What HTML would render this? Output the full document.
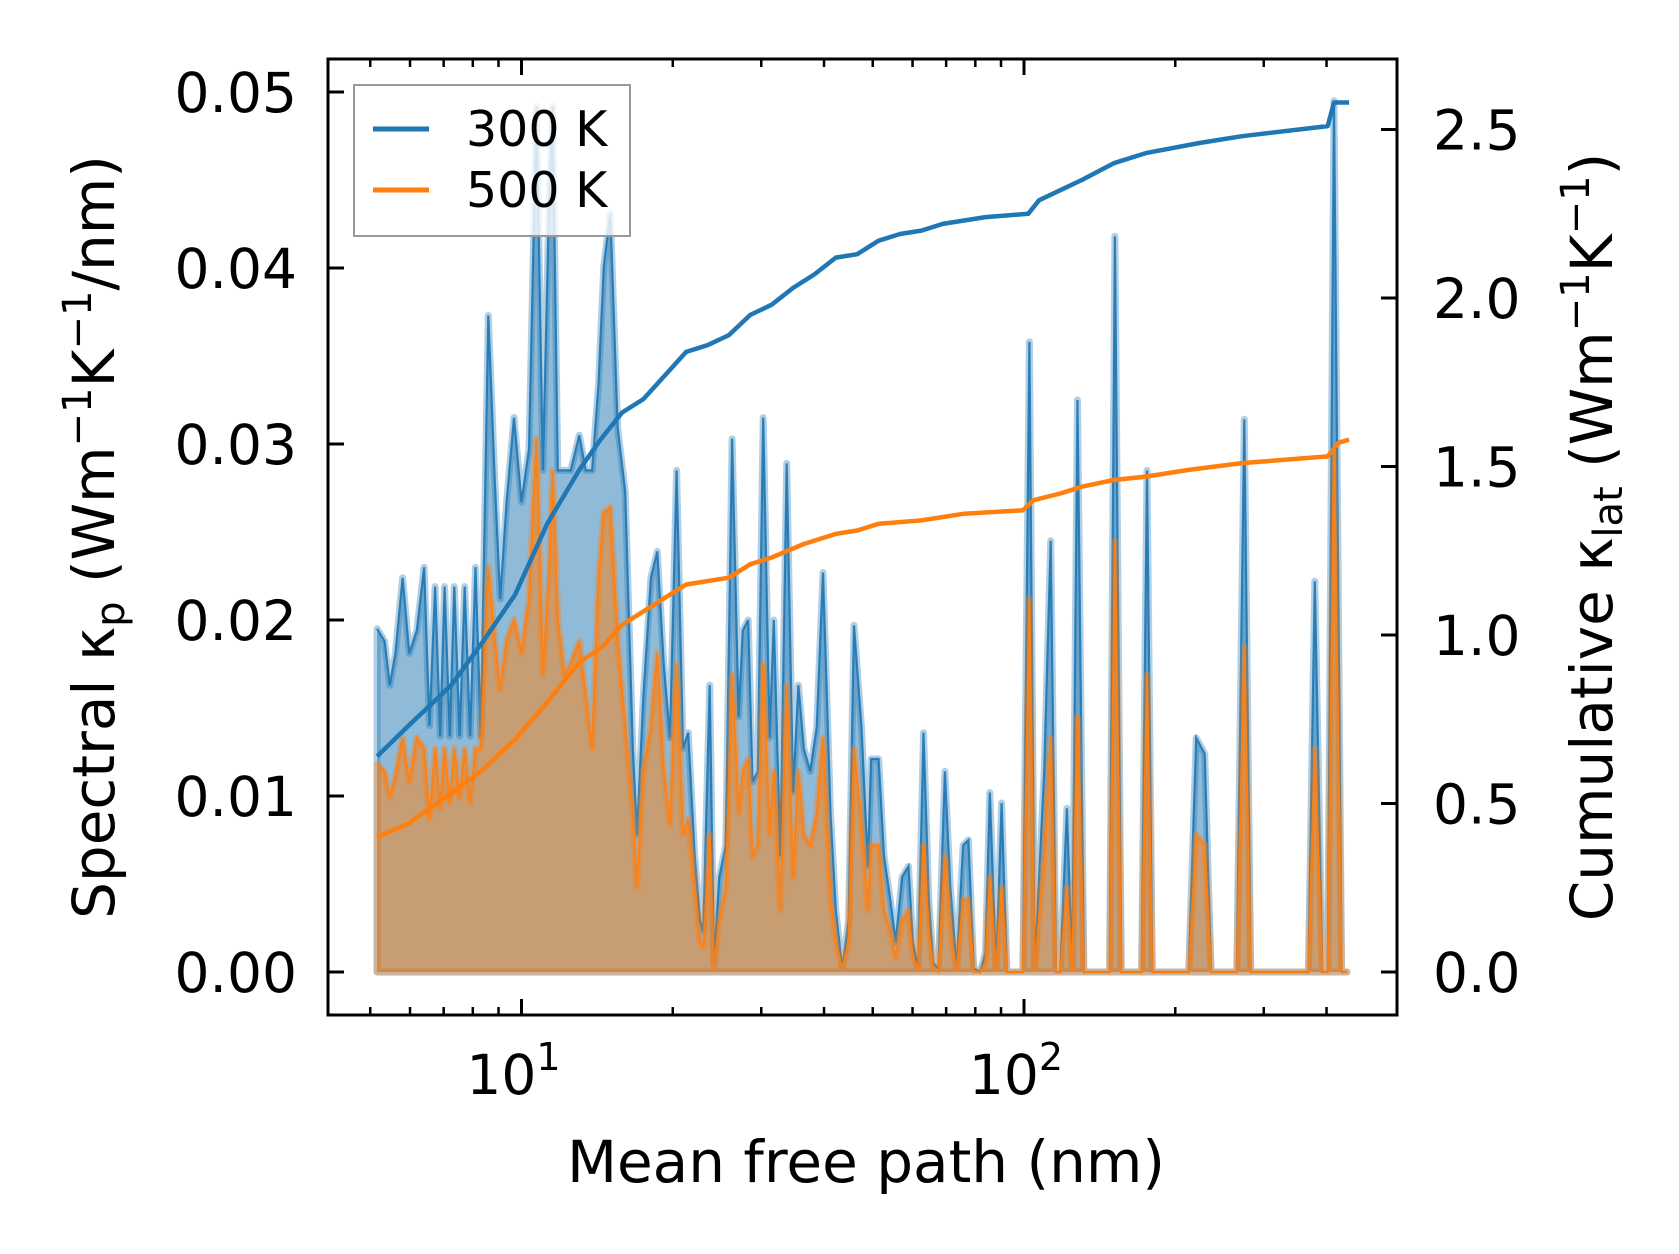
<!DOCTYPE html>
<html><head><meta charset="utf-8"><style>
html,body{margin:0;padding:0;background:#fff;}
svg{display:block;font-family:"DejaVu Sans","Liberation Sans",sans-serif;}
</style></head><body>
<svg id="chart" width="1679" height="1254" viewBox="0 0 1679 1254" xmlns="http://www.w3.org/2000/svg">
<g id="fills"></g><g id="lines"></g><g id="axes"></g>
</svg>
<script>
const mfp = [5.16,5.34,5.47,5.61,5.80,5.98,6.19,6.40,6.56,6.73,6.89,7.03,7.20,7.35,7.53,7.71,7.90,8.10,8.30,8.59,8.85,9.07,9.34,9.66,10.0,10.35,10.71,11.03,11.36,11.53,11.81,12.16,12.53,13.03,13.42,13.82,14.23,14.58,15.02,15.54,16.08,16.65,16.98,17.48,18.09,18.63,19.19,19.75,20.35,20.96,21.47,22.11,22.67,23.00,23.69,24.15,24.75,25.50,26.25,27.04,27.57,28.26,28.82,29.53,30.27,31.17,31.78,32.73,33.71,34.71,35.57,36.46,37.55,38.67,39.81,41.20,42.22,43.47,44.77,45.88,47.49,48.91,49.63,51.36,52.64,54.20,55.55,57.20,58.90,60.07,61.56,63.10,64.66,65.94,67.58,69.60,71.33,73.45,75.64,77.52,79.43,81.80,83.81,85.48,88.03,90.23,92.48,94.76,97.10,99.52,102.5,105.0,109.7,113.0,115.8,118.1,121.7,124.7,127.8,131.6,136.9,143.7,148.0,151.7,156.2,166.5,171.4,175.7,180.0,212.7,220.1,228.9,235.7,265.1,274.4,282.6,368.1,379.1,392.3,402.1,414.0,428.5,439.1];
const spec300 = [0.0195,0.0188,0.0163,0.0181,0.0224,0.0181,0.0194,0.0230,0.0140,0.0219,0.0134,0.0219,0.0134,0.0219,0.0134,0.0219,0.0134,0.0230,0.0134,0.0373,0.0279,0.0212,0.0267,0.0315,0.0267,0.0297,0.0492,0.0285,0.0443,0.0492,0.0285,0.0285,0.0285,0.0305,0.0285,0.0285,0.0334,0.0401,0.0431,0.0309,0.0273,0.0127,0.0078,0.0157,0.0224,0.0239,0.0175,0.0133,0.0285,0.0127,0.0136,0.0066,0.0029,0.0023,0.0163,0.0005,0.0054,0.0072,0.0303,0.0145,0.0194,0.0200,0.0108,0.0114,0.0315,0.0133,0.0200,0.0066,0.0289,0.0102,0.0163,0.0127,0.0114,0.0139,0.0227,0.0090,0.0035,0.0002,0.0029,0.0197,0.0139,0.0060,0.0121,0.0121,0.0066,0.0041,0.0017,0.0054,0.0060,0.0017,0.0002,0.0136,0.0041,0.0005,0.0002,0.0114,0.0048,0.0002,0.0072,0.0075,0.0002,0,0.0011,0.0102,0,0.0096,0,0,0,0,0.0358,0,0.0114,0.0245,0,0,0.0093,0,0.0325,0,0,0,0,0.0418,0,0,0,0.0285,0,0,0.0133,0.0124,0,0,0.0314,0,0,0.0222,0,0,0.0495,0,0];
const spec500 = [0.0118,0.0114,0.0099,0.0111,0.0133,0.0108,0.0133,0.0127,0.0087,0.0127,0.0093,0.0127,0.0096,0.0127,0.0099,0.0127,0.0096,0.0127,0.0127,0.0230,0.0188,0.0160,0.0188,0.0200,0.0181,0.0212,0.0303,0.0169,0.0230,0.0285,0.0200,0.0169,0.0175,0.0188,0.0157,0.0127,0.0224,0.0261,0.0264,0.0188,0.0139,0.0090,0.0048,0.0114,0.0139,0.0181,0.0114,0.0084,0.0175,0.0078,0.0087,0.0048,0.0017,0.0014,0.0078,0.0002,0.0029,0.0048,0.0169,0.0090,0.0114,0.0121,0.0066,0.0072,0.0175,0.0078,0.0114,0.0035,0.0163,0.0054,0.0114,0.0078,0.0072,0.0090,0.0133,0.0041,0.0017,0.0002,0.0017,0.0127,0.0084,0.0035,0.0072,0.0072,0.0035,0.0023,0.0008,0.0029,0.0035,0.0008,0.0002,0.0072,0.0023,0.0002,0,0.0066,0.0023,0,0.0041,0.0041,0,0,0.0005,0.0054,0,0.0048,0,0,0,0,0.0212,0,0.0066,0.0133,0,0,0.0048,0,0.0145,0,0,0,0,0.0245,0,0,0,0.0169,0,0,0.0078,0.0072,0,0,0.0185,0,0,0.0127,0,0,0.0295,0,0];
const cumMfp300 = [5.16,5.95,7.24,8.38,9.71,11.25,13.03,14.37,15.85,17.48,19.28,21.27,23.45,25.87,28.53,31.47,34.71,38.28,42.22,46.56,51.36,56.65,62.48,68.92,76.01,83.81,101.96,107.1,118.1,130.3,150.9,174.8,223.4,271.6,402.1,414.0,443.6];
const cum300 = [0.64,0.73,0.85,0.98,1.12,1.33,1.49,1.58,1.66,1.70,1.77,1.84,1.86,1.89,1.95,1.98,2.03,2.07,2.12,2.13,2.17,2.19,2.20,2.22,2.23,2.24,2.25,2.29,2.32,2.35,2.40,2.43,2.46,2.48,2.51,2.58,2.58];
const cumMfp500 = [5.16,5.95,7.24,8.38,9.71,11.25,13.03,14.37,15.85,17.48,19.28,21.27,25.87,28.53,31.47,36.46,42.22,46.56,51.36,62.48,76.01,99.52,104.5,118.1,130.3,150.9,174.8,212.7,271.6,402.1,422.3,443.6];
const cum500 = [0.40,0.44,0.53,0.60,0.69,0.80,0.92,0.96,1.03,1.07,1.11,1.15,1.17,1.21,1.23,1.27,1.30,1.31,1.33,1.34,1.36,1.37,1.40,1.42,1.44,1.46,1.47,1.49,1.51,1.53,1.57,1.58];
const leftTicks = [0,0.01,0.02,0.03,0.04,0.05];
const leftTickLabels = ["0.00","0.01","0.02","0.03","0.04","0.05"];
const rightTicks = [0,0.5,1.0,1.5,2.0,2.5];
const rightTickLabels = ["0.0","0.5","1.0","1.5","2.0","2.5"];
const xMajor = [10,100];
const xMinor = [5,6,7,8,9,20,30,40,50,60,70,80,90,200,300,400];

const L=328,R=1397,T=59,B=1015;
const X = v => 521.5 + (Math.log10(v)-1)*502.5;
const YL = v => 972 - v*17600;
const YR = v => 972 - v*337;
const NS="http://www.w3.org/2000/svg";
function mk(tag, attrs, parent){const e=document.createElementNS(NS,tag);for(const k in attrs)e.setAttribute(k,attrs[k]);parent.appendChild(e);return e;}
const fills=document.getElementById('fills'), lines=document.getElementById('lines'), axes=document.getElementById('axes');

function pts(xs, ys, fy){return xs.map((x,i)=>X(x).toFixed(1)+','+fy(ys[i]).toFixed(1));}
function area(ys, color, name){
  const p = pts(mfp, ys, YL);
  const d = 'M'+X(mfp[0]).toFixed(1)+','+YL(0)+' L'+p.join(' L')+' L'+X(mfp[mfp.length-1]).toFixed(1)+','+YL(0)+' Z';
  const a = mk('path',{d:d,fill:color,'fill-opacity':0.5,stroke:color,'stroke-opacity':0.35,'stroke-width':7,'stroke-linejoin':'round'},fills);
  
  
  const l = mk('polyline',{points:p.join(' '),fill:'none',stroke:color,'stroke-width':2.2,'stroke-opacity':0.9},fills);
  
  
}
area(spec300,'#1f77b4','spectral-300k');
area(spec500,'#ff7f0e','spectral-500k');

const c3 = mk('polyline',{points:pts(cumMfp300,cum300,YR).join(' '),fill:'none',stroke:'#1f77b4','stroke-width':4.5,'stroke-linejoin':'round'},lines);


const c5 = mk('polyline',{points:pts(cumMfp500,cum500,YR).join(' '),fill:'none',stroke:'#ff7f0e','stroke-width':4.5,'stroke-linejoin':'round'},lines);



const fr = mk('rect',{x:L,y:T,width:R-L,height:B-T,fill:'none',stroke:'#000','stroke-width':3},axes);


leftTicks.forEach((v,i)=>{
  const y=YL(v);
  mk('line',{x1:L,x2:L+16,y1:y,y2:y,stroke:'#000','stroke-width':3},axes);
  const t=mk('text',{x:297,y:y+20,'font-size':55,'text-anchor':'end',fill:'#000'},axes);
  t.textContent=leftTickLabels[i];
  
  
});
rightTicks.forEach((v,i)=>{
  const y=YR(v);
  mk('line',{x1:R-16,x2:R,y1:y,y2:y,stroke:'#000','stroke-width':3},axes);
  const t=mk('text',{x:1433,y:y+20,'font-size':55,'text-anchor':'start',fill:'#000'},axes);
  t.textContent=rightTickLabels[i];
  
  
});
xMajor.forEach(v=>{
  const x=X(v);
  mk('line',{x1:x,x2:x,y1:B,y2:B-16,stroke:'#000','stroke-width':3},axes);
  mk('line',{x1:x,x2:x,y1:T,y2:T+16,stroke:'#000','stroke-width':3},axes);
  const t=mk('text',{x:x-8,y:1094,'font-size':55,'text-anchor':'middle',fill:'#000'},axes);
  
  
  t.textContent='10';
  const s=mk('tspan',{dy:-24,'font-size':38},t);
  s.textContent=String(Math.round(Math.log10(v)));
});
xMinor.forEach(v=>{
  const x=X(v);
  mk('line',{x1:x,x2:x,y1:B,y2:B-8,stroke:'#000','stroke-width':2.5},axes);
  mk('line',{x1:x,x2:x,y1:T,y2:T+8,stroke:'#000','stroke-width':2.5},axes);
});
</script>
<div style="position:absolute;left:0;top:0;width:1679px;height:1254px;pointer-events:none;">
<svg width="1679" height="1254" style="position:absolute;left:0;top:0;font-family:'DejaVu Sans','Liberation Sans',sans-serif;">
<text x="866" y="1182" font-size="58" text-anchor="middle">Mean free path (nm)</text>
<text transform="translate(114,537) rotate(-90)" font-size="58" text-anchor="middle">Spectral κ<tspan font-size="40" dy="10">p</tspan><tspan dy="-10"> (Wm</tspan><tspan font-size="40" dy="-23">−1</tspan><tspan dy="23">K</tspan><tspan font-size="40" dy="-23">−1</tspan><tspan dy="23">/nm)</tspan></text>
<text transform="translate(1612,537) rotate(-90)" font-size="58" text-anchor="middle">Cumulative κ<tspan font-size="40" dy="10">lat</tspan><tspan dy="-10"> (Wm</tspan><tspan font-size="40" dy="-23">−1</tspan><tspan dy="23">K</tspan><tspan font-size="40" dy="-23">−1</tspan><tspan dy="23">)</tspan></text>
<g>
<rect x="354" y="85" width="276" height="151" fill="#fff" fill-opacity="0.8" stroke="#999" stroke-width="2"/>
<line x1="373" x2="429" y1="129" y2="129" stroke="#1f77b4" stroke-width="5"/>
<text x="466" y="146" font-size="49">300 K</text>
<line x1="373" x2="429" y1="190" y2="190" stroke="#ff7f0e" stroke-width="5"/>
<text x="466" y="207" font-size="49">500 K</text>
</g>
</svg>
</div>
</body></html>
